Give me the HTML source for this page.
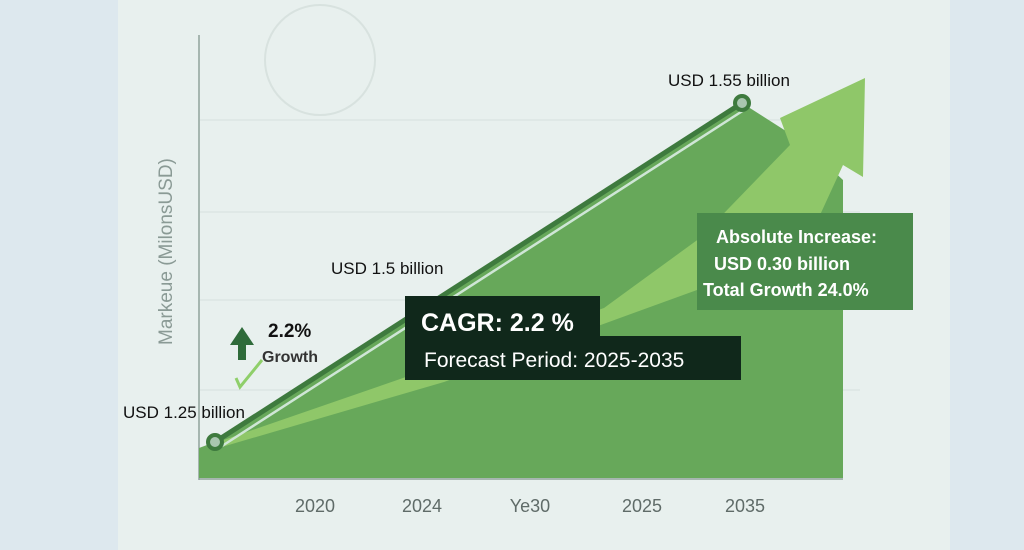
<!DOCTYPE html>
<html><head><meta charset="utf-8"><style>
body{margin:0;width:1024px;height:550px;overflow:hidden;background:#dfe9ee;font-family:"Liberation Sans",sans-serif}
</style></head><body>
<svg width="1024" height="550" viewBox="0 0 1024 550" xmlns="http://www.w3.org/2000/svg" style="position:absolute;left:0;top:0">
<rect x="0" y="0" width="1024" height="550" fill="#dde8ee"/>
<rect x="118" y="0" width="832" height="550" fill="#e8f0ee"/>
<circle cx="320" cy="60" r="55" fill="none" stroke="#d8e2df" stroke-width="2"/>
<g stroke="#d6e0dd" stroke-width="1">
<line x1="200" y1="120" x2="860" y2="120"/><line x1="200" y1="212" x2="860" y2="212"/>
<line x1="200" y1="300" x2="860" y2="300"/><line x1="200" y1="390" x2="860" y2="390"/>
</g>
<line x1="199" y1="35" x2="199" y2="480" stroke="#8fa39c" stroke-width="1.5"/>
<line x1="199" y1="479" x2="843" y2="479" stroke="#8fa39c" stroke-width="1.5"/>
<polygon points="199,478 199,448 215,442 742,103 800,140 843,180 843,478" fill="#67a85a"/>
<polygon points="215,443 380,386 604,308 700,238 790,145 780,118 865,78 863,177 843,165 820,215 697,290 444,382 215,449" fill="#8fc769"/>
<line x1="222" y1="446" x2="744" y2="110" stroke="#cfe6d6" stroke-width="2.5"/>
<line x1="215" y1="442" x2="742" y2="103" stroke="#3e7a3e" stroke-width="5"/>
<circle cx="215" cy="442" r="7" fill="#a9c6b0" stroke="#3e7a3e" stroke-width="4"/>
<circle cx="742" cy="103" r="7" fill="#a9c6b0" stroke="#3e7a3e" stroke-width="4"/>
<rect x="697" y="213" width="216" height="97" fill="#4a8a4b"/>
<text fill="#fff" font-weight="bold" font-size="18"><tspan x="716" y="243">Absolute Increase:</tspan><tspan x="714" y="270">USD 0.30 billion</tspan><tspan x="703" y="296">Total Growth 24.0%</tspan></text>
<rect x="405" y="296" width="195" height="50" fill="#10281b"/>
<rect x="405" y="336" width="336" height="44" fill="#10281b"/>
<text x="421" y="331" fill="#fff" font-weight="bold" font-size="25">CAGR: 2.2 %</text>
<text x="424" y="367" fill="#fff" font-size="21">Forecast Period: 2025-2035</text>
<text x="668" y="86" font-size="17" fill="#111">USD 1.55 billion</text>
<text x="331" y="274" font-size="17" fill="#111">USD 1.5 billion</text>
<text x="123" y="418" font-size="17" fill="#111">USD 1.25 billion</text>
<text x="268" y="337" font-size="19" font-weight="bold" fill="#111">2.2%</text>
<text x="262" y="362" font-size="16" font-weight="bold" fill="#333">Growth</text>
<polygon points="230,345 238,345 238,360 246,360 246,345 254,345 242,327" fill="#2f6b3a"/>
<polyline points="236,378 240,387 262,360" fill="none" stroke="#8fcf6a" stroke-width="3"/>
<text transform="translate(172,345) rotate(-90)" font-size="19" fill="#8a9a95">Markeue (MilonsUSD)</text>
<g font-size="18" fill="#5f6b68" text-anchor="middle">
<text x="315" y="512">2020</text><text x="422" y="512">2024</text><text x="530" y="512">Ye30</text>
<text x="642" y="512">2025</text><text x="745" y="512">2035</text>
</g>
</svg>
</body></html>
